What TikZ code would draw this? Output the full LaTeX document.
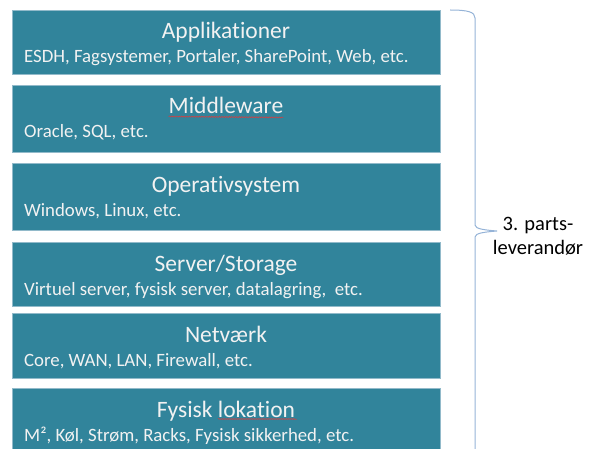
\documentclass[tikz,border=0pt]{standalone}
\usepackage{fontspec}
\setmainfont{Carlito}[Ligatures=NoCommon]
\usetikzlibrary{decorations.pathmorphing}
\definecolor{layerfill}{HTML}{31849B}
\definecolor{layeredge}{HTML}{92BACA}
\definecolor{layertext}{HTML}{F2F2F2}
\definecolor{bracecol}{HTML}{95B3D7}
\definecolor{spellred}{HTML}{E03A3A}
\tikzset{
  layer/.style={rectangle,fill=layerfill,draw=layeredge,line width=0.8pt,
    anchor=north west,minimum width=428pt,inner sep=0pt},
  head/.style={anchor=base,inner sep=0pt,text=layertext,font=\fontsize{23.5}{28}\selectfont},
  sub/.style={anchor=base west,inner sep=0pt,text=layertext,font=\fontsize{18.8}{22}\selectfont},
  spell/.style={spellred,line width=0.5pt,decorate,
    decoration={snake,amplitude=0.6pt,segment length=2.5pt}},
  brace/.style={bracecol,line width=1pt},
  note/.style={align=center,inner sep=0pt,font=\fontsize{20.5}{24.5}\selectfont}
}
\begin{document}
\begin{tikzpicture}[x=1pt,y=-1pt]
\useasboundingbox (0,0) rectangle (596,449);
\foreach \n/\t/\h/\head/\sub in {
  1/10/64/{Applikationer}/{ESDH, Fagsystemer, Portaler, SharePoint, Web, etc.},
  2/85/67/{Middleware}/{Oracle, SQL, etc.},
  3/163/67/{Operativsystem}/{Windows, Linux, etc.},
  4/242/64/{Server/Storage}/{Virtuel server, fysisk server, datalagring,\ \ etc.},
  5/313/65/{Netværk}/{Core, WAN, LAN, Firewall, etc.},
  6/388/66/{Fysisk lokation}/{M², Køl, Strøm, Racks, Fysisk sikkerhed, etc.}}
{
\node[layer,minimum height=\h pt] (box\n) at (12,\t) {};
\node[head] (head\n) at (226,{\t+29}) {\head};
\node[sub] (sub\n) at (24,{\t+53}) {\sub};
}
\draw[spell] (head2.base west) ++(0,2.5) -- (head2.base east |- 0,117.5);
\draw[spell] (218,419) -- (297,419);
\coordinate (tip) at (497,231);
\draw[brace] (450,10) .. controls (468,10) and (475,12) .. (475,18) -- (475,225)
  .. controls (475,229) and (485,230) .. (tip)
  .. controls (485,232) and (475,233) .. (475,237) -- (475,452);
\node[note] (lev) at (538,236) {3. parts-\\leverandør};
\end{tikzpicture}
\end{document}
